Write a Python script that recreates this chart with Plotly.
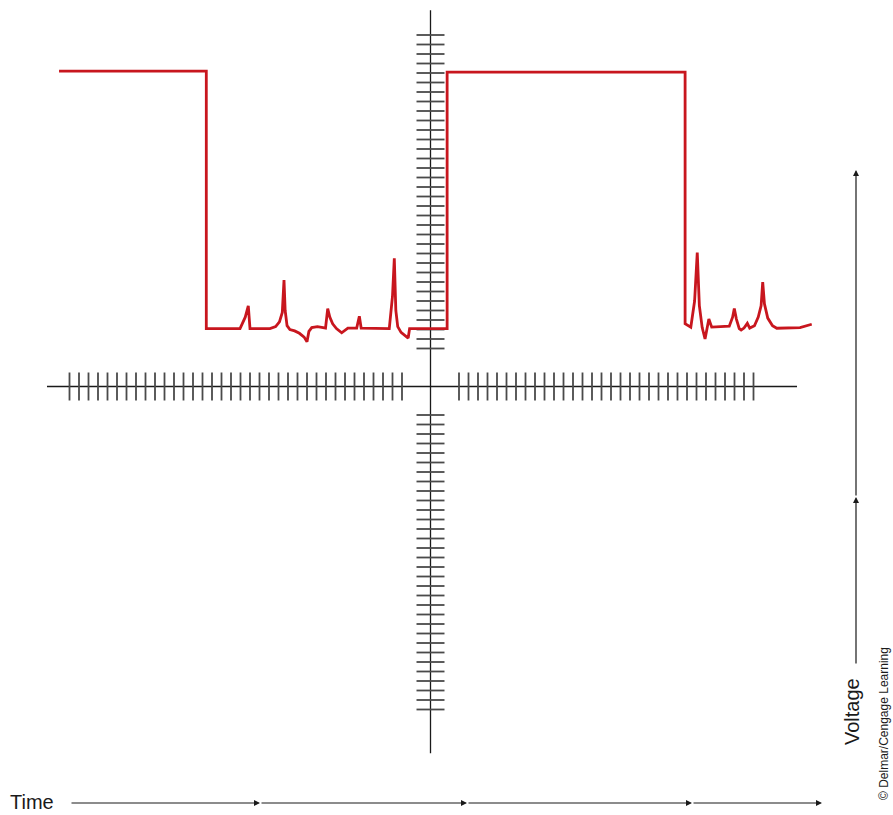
import plotly.graph_objects as go

# ---------------- data (units: graticule divisions) ----------------
time = [-39.1, -23.6, -23.6, -20.05, -19.5, -19.18, -19.0, -16.9, -16.3, -15.9, -15.6, -15.42,
        -15.3, -15.1, -14.8, -14.3, -13.8, -13.3, -13.0, -12.8, -12.5, -11.9, -11.3, -11.05,
        -10.82, -10.6, -10.3, -9.9, -9.35, -9.0, -8.7, -7.77, -7.49, -7.3, -4.34, -4.0, -3.81,
        -3.65, -3.45, -3.1, -2.6, -2.35, -2.2, 1.75, 1.75, 26.8, 26.8, 27.4, 27.8, 28.08, 28.3,
        28.6, 28.9, 29.3, 29.6, 31.45, 31.8, 31.98, 32.2, 32.5, 32.7, 33.0, 33.35, 33.6, 34.1,
        34.5, 34.8, 34.97, 35.15, 35.5, 36.0, 36.45, 38.9, 40.13]
voltage = [33.2, 33.2, 6.1, 6.1, 7.3, 8.5, 6.1, 6.1, 6.3, 6.8, 7.8, 11.2,
           8.0, 6.4, 6.0, 5.85, 5.6, 5.2, 4.7, 5.8, 6.2, 6.3, 6.2, 6.15,
           8.2, 7.3, 6.6, 6.1, 5.65, 5.95, 6.15, 6.15, 7.4, 6.15, 6.1, 9.5, 13.5,
           8.0, 6.3, 5.7, 5.3, 5.1, 6.1, 6.1, 33.1, 33.1, 6.6, 6.25, 9.0, 14.1, 8.5,
           6.2, 5.0, 7.1, 6.25, 6.35, 7.3, 8.2, 7.1, 6.1, 5.95, 6.15, 6.65, 6.15, 6.4,
           7.3, 8.5, 11.0, 8.7, 7.2, 6.4, 6.13, 6.2, 6.55]

h_ticks = list(range(-38, -2)) + list(range(3, 35))
v_ticks = list(range(-34, -2)) + list(range(4, 38))

x_axis_extent = [-40.37, 38.58]
y_axis_extent = [-38.6, 39.6]

# ---------------- geometry ----------------
W, H = 893, 815
PX = 9.5            # pixels per division
OX, OY = 430.5, 386.5
x_range = [-OX / PX, (W - OX) / PX]
y_range = [-(H - OY) / PX, OY / PX]

def px_x(p):
    return (p - OX) / PX

def px_y(p):
    return (OY - p) / PX

fig = go.Figure()

# axes
fig.add_trace(go.Scatter(x=x_axis_extent, y=[0, 0], mode="lines",
                         line=dict(color="#1a1a1a", width=1.3), hoverinfo="skip"))
fig.add_trace(go.Scatter(x=[0, 0], y=y_axis_extent, mode="lines",
                         line=dict(color="#1a1a1a", width=1.3), hoverinfo="skip"))

# graticule ticks
fig.add_trace(go.Scatter(x=h_ticks, y=[0] * len(h_ticks), mode="markers",
                         marker=dict(symbol="line-ns", size=20,
                                     line=dict(color="#4a4a4a", width=1.8)),
                         hoverinfo="skip"))
fig.add_trace(go.Scatter(x=[0] * len(v_ticks), y=v_ticks, mode="markers",
                         marker=dict(symbol="line-ew", size=20,
                                     line=dict(color="#4a4a4a", width=1.8)),
                         hoverinfo="skip"))

# waveform
fig.add_trace(go.Scatter(x=time, y=voltage, mode="lines",
                         line=dict(color="#c8161e", width=2.8), hoverinfo="skip"))

annotations = []
# Time arrow (segments with heads)
t_pts = [70, 260, 467, 692, 822]
ty = 803
for a, b in zip(t_pts[:-1], t_pts[1:]):
    annotations.append(dict(x=px_x(b), y=px_y(ty), ax=px_x(a), ay=px_y(ty),
                            xref="x", yref="y", axref="x", ayref="y",
                            showarrow=True, arrowhead=2, arrowsize=1, arrowwidth=1.2,
                            arrowcolor="#1a1a1a", text=""))
# Voltage arrow
v_pts = [665, 497, 170]
vx = 856
for a, b in zip(v_pts[:-1], v_pts[1:]):
    annotations.append(dict(x=px_x(vx), y=px_y(b), ax=px_x(vx), ay=px_y(a),
                            xref="x", yref="y", axref="x", ayref="y",
                            showarrow=True, arrowhead=2, arrowsize=1, arrowwidth=1.2,
                            arrowcolor="#1a1a1a", text=""))

annotations.append(dict(x=8 / W, y=1 - 802 / H, xref="paper", yref="paper",
                        xanchor="left", yanchor="middle", showarrow=False,
                        text="Time", font=dict(size=20, color="#1a1a1a")))
annotations.append(dict(x=852 / W, y=1 - 712 / H, xref="paper", yref="paper",
                        xanchor="center", yanchor="middle", showarrow=False,
                        textangle=-90, text="Voltage", font=dict(size=20, color="#1a1a1a")))
annotations.append(dict(x=884 / W, y=1 - 724 / H, xref="paper", yref="paper",
                        xanchor="center", yanchor="middle", showarrow=False,
                        textangle=-90, text="© Delmar/Cengage Learning",
                        font=dict(size=12, color="#1a1a1a")))

fig.update_layout(
    width=W, height=H,
    margin=dict(l=0, r=0, t=0, b=0),
    paper_bgcolor="white", plot_bgcolor="white",
    showlegend=False,
    font=dict(family="Liberation Sans, Arial, sans-serif"),
    xaxis=dict(range=x_range, visible=False, fixedrange=True),
    yaxis=dict(range=y_range, visible=False, fixedrange=True),
    annotations=annotations,
)

fig.write_html("out.html", config={"displayModeBar": False},
               post_script="document.body.style.margin='0';document.body.style.overflow='hidden';")
